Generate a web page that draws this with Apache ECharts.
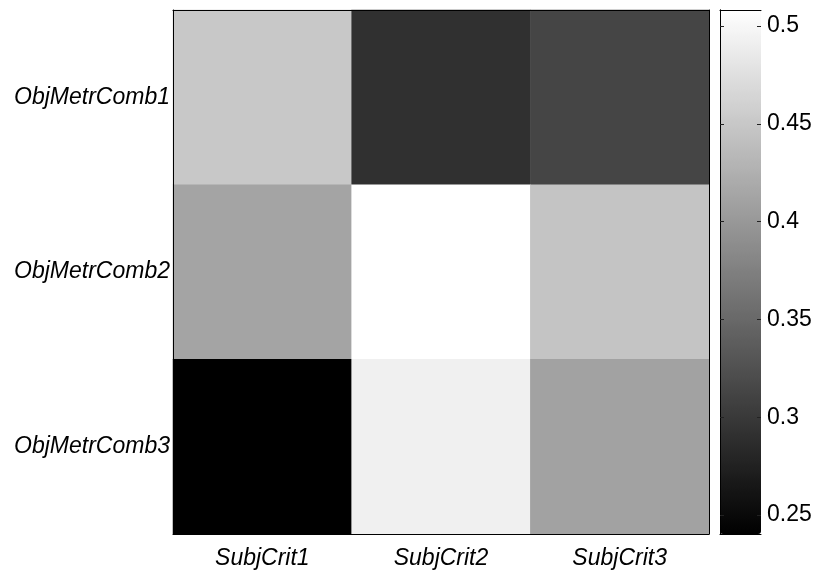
<!DOCTYPE html>
<html>
<head>
<meta charset="utf-8">
<script src="https://cdn.jsdelivr.net/npm/echarts@6/dist/echarts.min.js"></script>
<style>html,body{margin:0;padding:0;background:#fff;}#c{width:817px;height:571px;}</style>
</head>
<body>
<div id="c"></div>
<script>
const xCategories = ['SubjCrit1', 'SubjCrit2', 'SubjCrit3'];
const yCategories = ['ObjMetrComb1', 'ObjMetrComb2', 'ObjMetrComb3'];
const row1 = [0.4504, 0.2907, 0.3128];
const row2 = [0.4126, 0.5082, 0.4462];
const row3 = [0.2403, 0.4924, 0.4105];
const colorMin = 0.2403;
const colorMax = 0.5082;
const colorbarTicks = [0.25, 0.3, 0.35, 0.4, 0.45, 0.5];

const rows = [row1, row2, row3];
const data = [];
rows.forEach((r, yi) => r.forEach((v, xi) => data.push([xi, yi, v])));

const font = 'Liberation Sans, Arial, sans-serif';
const fs = 23;
const cbAxis = (extra) => Object.assign({
  type: 'value', gridIndex: 1, min: colorMin, max: colorMax, z: 10,
  axisLine: {show: false}, axisTick: {show: false}, axisLabel: {show: false}, splitLine: {show: false}
}, extra);

const chart = echarts.init(document.getElementById('c'), null, {renderer: 'canvas'});
chart.setOption({
  animation: false,
  backgroundColor: '#ffffff',
  grid: [
    {left: 173, top: 10, width: 536, height: 524},
    {left: 720, top: 10, width: 41, height: 524}
  ],
  xAxis: [
    {type: 'category', data: xCategories, gridIndex: 0, position: 'bottom', z: 10,
     axisLine: {lineStyle: {color: '#000', width: 1}}, axisTick: {show: false},
     axisLabel: {fontFamily: font, fontSize: fs, fontStyle: 'italic', color: '#000', margin: 13},
     splitLine: {show: false}},
    {type: 'category', data: xCategories, gridIndex: 0, position: 'top', z: 10,
     axisLine: {lineStyle: {color: '#000', width: 1}}, axisTick: {show: false}, axisLabel: {show: false}},
    {type: 'value', gridIndex: 1, position: 'bottom', min: 0, max: 1, z: 10,
     axisLine: {show: true, lineStyle: {color: '#000'}}, axisTick: {show: false}, axisLabel: {show: false}, splitLine: {show: false}},
    {type: 'value', gridIndex: 1, position: 'top', min: 0, max: 1, z: 10,
     axisLine: {show: true, lineStyle: {color: '#000'}}, axisTick: {show: false}, axisLabel: {show: false}, splitLine: {show: false}}
  ],
  yAxis: [
    {type: 'category', data: yCategories, inverse: true, gridIndex: 0, position: 'left', z: 10,
     axisLine: {lineStyle: {color: '#000', width: 1}}, axisTick: {show: false},
     axisLabel: {fontFamily: font, fontSize: fs, fontStyle: 'italic', color: '#000', margin: 3},
     splitLine: {show: false}},
    {type: 'category', data: yCategories, inverse: true, gridIndex: 0, position: 'right', z: 10,
     axisLine: {lineStyle: {color: '#000', width: 1}}, axisTick: {show: false}, axisLabel: {show: false}},
    cbAxis({position: 'right',
      axisLine: {show: true, lineStyle: {color: '#000'}},
      axisLabel: {show: true, fontFamily: font, fontSize: fs, color: '#000', margin: 6, customValues: colorbarTicks,
        formatter: v => String(+v.toFixed(2))}}),
    cbAxis({position: 'left', axisLine: {show: true, lineStyle: {color: '#000'}}}),
    cbAxis({position: 'right', offset: -41,
      axisTick: {show: true, length: 4, lineStyle: {color: '#222'}, customValues: colorbarTicks}}),
    cbAxis({position: 'left', offset: -41,
      axisTick: {show: true, length: 4, lineStyle: {color: '#222'}, customValues: colorbarTicks}})
  ],
  visualMap: {
    type: 'continuous', min: colorMin, max: colorMax, seriesIndex: 0,
    calculable: false, orient: 'vertical', left: 720, top: 10, padding: 0,
    itemWidth: 41, itemHeight: 524, text: null, showLabel: false,
    inRange: {color: ['#000000', '#ffffff']}, hoverLink: false, z: 1
  },
  series: [{
    type: 'heatmap', xAxisIndex: 0, yAxisIndex: 0, data: data,
    itemStyle: {borderWidth: 0}, emphasis: {disabled: true}
  }]
});
</script>
</body>
</html>
